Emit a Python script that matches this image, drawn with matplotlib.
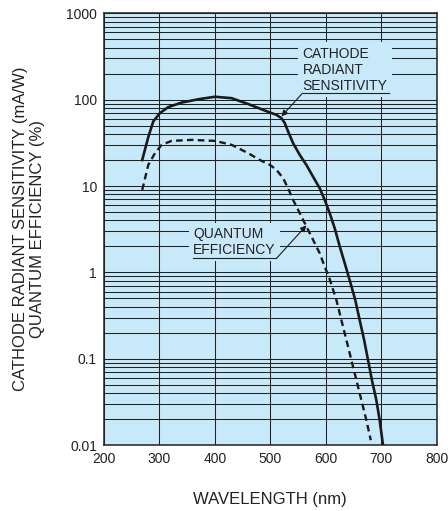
import numpy as np
import matplotlib
matplotlib.use("Agg")
import matplotlib.pyplot as plt
from matplotlib.ticker import LogLocator, FixedLocator, NullFormatter

plt.rcParams['font.family'] = ['Liberation Sans', 'DejaVu Sans']

# Cathode radiant sensitivity (mA/W)
cathode_wl = [269, 280, 289, 301, 316, 340, 370, 400, 430, 460, 499, 511,
              520, 526, 532, 541, 553, 565, 577, 589, 598, 607, 616, 625,
              634, 644, 653, 661, 669, 676, 683, 691, 697, 703]
cathode_val = [20, 37, 56, 70, 82, 92.5, 101, 108, 104, 89, 71, 66.7,
               61, 53.5, 42.7, 31.3, 22.9, 17.5, 12.8, 9.4, 6.9, 4.84, 3.24,
               2.0, 1.28, 0.77, 0.479, 0.28, 0.165, 0.0966, 0.0567, 0.0332,
               0.0195, 0.01]

# Quantum efficiency (%)
qe_wl = [269, 280, 292, 304, 322, 358, 400, 430, 460, 481, 499, 511, 523,
         532, 541, 553, 562, 574, 589, 598, 606, 619, 628, 637, 646, 655,
         664, 673, 681]
qe_val = [9.0, 17.6, 24, 30, 33.3, 34.2, 33.3, 30, 24, 20, 17.6, 15.4, 12.3,
          9.4, 6.9, 4.84, 3.71, 2.6, 1.66, 1.16, 0.87, 0.479, 0.28, 0.165,
          0.0966, 0.0567, 0.0332, 0.0195, 0.0114]

x_ticks = [200, 300, 400, 500, 600, 700, 800]
y_ticks = [0.01, 0.1, 1, 10, 100, 1000]
y_tick_labels = ['0.01', '0.1', '1', '10', '100', '1000']

bg = '#c7e9f9'
grid_col = '#222222'
ink = '#1a1a1a'

fig = plt.figure(figsize=(4.48, 5.11), dpi=100)
ax = fig.add_axes([0.232, 0.129, 0.743, 0.845])
ax.set_facecolor(bg)

ax.set_yscale('log')
ax.set_xlim(200, 800)
ax.set_ylim(0.01, 1000)

ax.xaxis.set_major_locator(FixedLocator(x_ticks))
ax.set_yticks(y_ticks)
ax.set_yticklabels(y_tick_labels)
ax.yaxis.set_minor_locator(LogLocator(base=10, subs=np.arange(2, 10)))
ax.yaxis.set_minor_formatter(NullFormatter())
ax.tick_params(which='both', length=0, labelsize=10, colors='#222222', pad=5)

ax.grid(True, which='major', axis='both', color=grid_col, lw=0.75)
ax.grid(True, which='minor', axis='y', color=grid_col, lw=0.75)
ax.set_axisbelow(True)

for s in ax.spines.values():
    s.set_linewidth(1.1)
    s.set_color('#222222')

ax.plot(cathode_wl, cathode_val, color=ink, lw=1.9, zorder=4,
        solid_joinstyle='round')
ax.plot(qe_wl, qe_val, color=ink, lw=1.7, dashes=(2.8, 1.8), zorder=4)

# annotations: underlined last line and a leader arrow to the curve
box = dict(facecolor=bg, edgecolor='none', pad=3)
arrow = dict(arrowstyle='-|>', color=ink, lw=0.8, mutation_scale=9,
             shrinkA=0, shrinkB=0)

ax.text(558, 412, 'CATHODE\nRADIANT\nSENSITIVITY', fontsize=10, ha='left',
        va='top', linespacing=1.18, color='#222222', bbox=box, zorder=3)
ax.plot([558, 714], [119, 119], color='#222222', lw=0.8, zorder=5)
ax.annotate('', xy=(520, 64), xytext=(558, 119), arrowprops=arrow, zorder=5)

ax.text(361, 3.36, 'QUANTUM\nEFFICIENCY', fontsize=10, ha='left',
        va='top', linespacing=1.18, color='#222222', bbox=box, zorder=3)
ax.plot([360, 511], [1.45, 1.45], color='#222222', lw=0.8, zorder=5)
ax.annotate('', xy=(565, 3.5), xytext=(511, 1.45), arrowprops=arrow, zorder=5)

ax.set_xlabel('WAVELENGTH (nm)', fontsize=12, color='#222222')
ax.xaxis.set_label_coords(0.5, -0.108)
ax.set_ylabel('CATHODE RADIANT SENSITIVITY (mA/W)\nQUANTUM EFFICIENCY (%)',
              fontsize=12, color='#222222', linespacing=1.2)
ax.yaxis.set_label_coords(-0.177, 0.5)

fig.savefig('out.png', dpi=100, facecolor='white')
